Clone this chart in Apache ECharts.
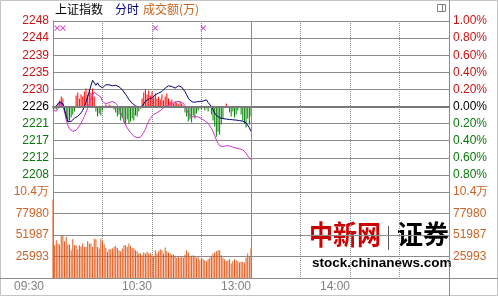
<!DOCTYPE html>
<html><head><meta charset="utf-8">
<script src="https://cdn.jsdelivr.net/npm/echarts@6/dist/echarts.min.js"></script>
<style>html,body{margin:0;padding:0;background:#fff}#c{width:498px;height:296px}</style>
</head><body><div id="c"></div>
<script>
// ---- data ----
const baseClose = 2225.8;
const priceLabels = ['2248','2244','2239','2235','2230','2226','2221','2217','2212','2208'];
const pctLabels = ['1.00%','0.80%','0.60%','0.40%','0.20%','0.00%','0.20%','0.40%','0.60%','0.80%'];
const volLabels = ['10.4万','77980','51987','25993'];
const volMax = 103973;
const timeLabels = ['09:30','10:30','13:00','14:00'];
const timeTicks = [0,60,120,180];

const indexPrice = [2225.33,2225.59,2225.98,2226.50,2227.02,2227.28,2226.50,2224.94,2223.38,2221.82,
2221.69,2221.95,2222.34,2222.73,2222.99,2223.25,2223.64,2224.16,2224.81,2225.72,
2227.02,2228.32,2229.63,2231.19,2232.62,2233.14,2231.32,2231.97,2231.19,2231.71,
2230.67,2231.06,2231.45,2231.71,2231.45,2231.06,2231.19,2231.45,2231.32,2231.19,
2230.93,2230.54,2230.15,2229.63,2228.98,2228.32,2227.67,2227.15,2226.63,2226.24,
2225.98,2225.72,2225.59,2225.72,2225.85,2226.50,2227.15,2227.54,2227.73,2227.86,
2227.99,2228.46,2228.85,2229.11,2229.29,2229.50,2229.70,2230.15,2230.59,2230.93,
2231.19,2231.11,2231.01,2230.80,2230.59,2230.93,2231.19,2231.06,2230.85,2230.28,
2229.70,2228.85,2227.99,2227.41,2226.95,2226.89,2226.95,2227.02,2227.10,2227.10,
2227.10,2227.21,2227.28,2227.54,2226.84,2226.37,2225.80,2224.94,2224.08,2223.51,
2223.04,2222.86,2222.78,2222.65,2222.52,2222.52,2222.52,2222.42,2222.34,2222.34,
2222.34,2222.26,2222.16,2222.13,2222.08,2222.00,2221.90,2221.56,2221.04,2220.26,
2219.34];

const unweighted = [2224.94,2224.68,2224.55,2225.07,2225.85,2227.02,2226.76,2224.42,2222.34,2220.91,
2219.99,2219.47,2219.34,2219.29,2219.60,2220.18,2220.78,2221.48,2222.34,2223.20,
2224.29,2225.38,2226.50,2227.54,2228.72,2229.50,2229.70,2228.85,2228.46,2228.25,
2227.10,2226.76,2226.50,2226.69,2226.84,2227.02,2227.10,2226.89,2226.69,2226.11,
2225.38,2224.29,2223.20,2222.08,2221.04,2220.26,2219.55,2218.95,2218.43,2218.10,
2217.83,2217.65,2217.57,2217.78,2218.17,2219.08,2219.87,2221.04,2221.95,2222.73,
2223.25,2223.77,2223.98,2224.16,2224.42,2224.73,2225.15,2225.46,2225.72,2225.93,
2226.11,2226.32,2226.55,2226.76,2226.97,2227.10,2227.10,2227.08,2227.02,2226.63,
2225.98,2224.94,2224.03,2223.51,2223.12,2223.04,2223.12,2223.20,2223.12,2222.99,
2222.60,2222.29,2222.08,2221.82,2221.43,2220.91,2220.13,2219.29,2218.17,2217.13,
2216.22,2215.57,2215.44,2215.39,2215.49,2215.57,2215.57,2215.57,2215.39,2215.23,
2215.10,2214.97,2214.87,2214.79,2214.66,2214.53,2214.14,2213.67,2212.97,2212.45,
2211.93];

const strength = [0,-2,-3,3,6,10,8,-6,-12,-15,
-14,-11,-8,-5,11,14,8,12,10,15,
18,12,17,14,18,10,-5,-10,-7,-9,
-4,0,2,0,2,1,0,-3,-6,-10,
-8,-14,-11,-16,-18,-13,-17,-15,-12,-14,
-9,-10,-5,-2,8,14,17,12,16,11,
15,9,13,8,10,7,12,6,10,13,
8,5,7,3,5,4,2,5,3,1,
-6,-10,-15,-13,-16,-9,-12,-7,-4,-2,
-3,0,-4,-2,-5,0,-8,-14,-20,-30,
-25,-28,-18,-12,0,3,0,-6,-10,-5,
-11,-8,-4,0,-8,-14,-17,-21,-12,-18,
-10];

const volume = [94800,39600,45600,41600,40400,50800,50800,44400,49600,40400,
40400,33600,46800,39600,39600,34800,39600,38400,41600,37600,
37600,44400,41600,41600,37600,47600,46800,37600,35600,47600,
44400,40400,36400,31600,34800,34800,35600,37600,38800,36400,
33600,32400,35600,39600,39600,37600,41600,38800,36400,35600,
33600,32400,29600,29600,27600,30800,29600,31600,29600,30000,
27600,25600,33600,29600,32400,34800,33600,29600,36800,32400,
30800,29600,28400,28400,26800,24400,25600,24400,25600,24400,
28400,33600,30800,25600,26800,27600,26000,24400,25200,21600,
24400,22800,21600,20400,22800,24400,26800,29600,30800,32400,
33600,33600,27600,24400,22800,20400,21600,22800,17600,20400,
22800,21600,20400,18800,19600,19600,18800,24400,29600,25600,
35600];

const markerMinutes = [2.5,6,62,91];
const markerPrice = 2246.2;

// ---- chart ----
const toPct = p => (p / baseClose - 1) * 100;
const RED = '#c81414', GREEN = '#0a780a', ORANGE = '#cc6428', GRID = '#8c8c8c';
const FONT = '"Liberation Sans", Arial, sans-serif';
const CJK = '"Noto Sans CJK SC", sans-serif';
const pIdx = v => Math.round((1 - Number(v)) / 0.2);
const vIdx = v => Math.round((volMax - Number(v)) / (volMax / 4));
const priceColor = v => { const i = pIdx(v); return i < 5 ? RED : (i === 5 ? '#000' : GREEN); };

const chart = echarts.init(document.getElementById('c'), null, {renderer: 'canvas'});
const baseLabel = {fontSize: 12, fontFamily: FONT};

chart.setOption({
  animation: false,
  title: [
    {text: '上证指数', left: 55, top: 3, padding: 0, textStyle: {fontSize: 12, fontWeight: 'normal', color: '#000', fontFamily: CJK}},
    {text: '分时', left: 115, top: 3, padding: 0, textStyle: {fontSize: 12, fontWeight: 'normal', color: '#000080', fontFamily: CJK}},
    {text: '成交额(万)', left: 143, top: 3, padding: 0, textStyle: {fontSize: 12, fontWeight: 'normal', color: '#c8641e', fontFamily: CJK}}
  ],
  grid: [
    {left: 53, right: 49, top: 21, height: 171, outerBoundsMode: 'none'},
    {left: 53, right: 49, top: 192, height: 86, outerBoundsMode: 'none'}
  ],
  xAxis: [
    {gridIndex: 0, type: 'value', min: 0, max: 240, interval: 30,
     axisLine: {show: true, lineStyle: {color: '#7a7a7a', width: 2}}, axisTick: {show: false}, axisLabel: {show: false},
     splitLine: {show: true, lineStyle: {color: GRID, type: [1, 1], width: 1}}},
    {gridIndex: 1, type: 'value', min: 0, max: 240, interval: 30,
     axisLine: {show: false}, axisTick: {show: false},
     splitLine: {show: true, lineStyle: {color: GRID, type: [1, 1], width: 1}},
     axisLabel: Object.assign({}, baseLabel, {
       show: true, margin: 3, color: '#808080', align: 'right',
       formatter: v => { const i = timeTicks.indexOf(Number(v)); if (i < 0) return ''; return i === 0 ? '{f|' + timeLabels[0] + '}' : timeLabels[i]; },
       rich: {f: {padding: [0, 9, 0, 0], fontSize: 12, fontFamily: FONT, color: '#808080'}}
     })}
  ],
  yAxis: [
    {gridIndex: 0, type: 'value', min: -1, max: 1, interval: 0.2, position: 'left',
     axisLine: {show: true, lineStyle: {color: GRID}}, axisTick: {show: false},
     splitLine: {show: true, lineStyle: {color: GRID, width: 1}},
     axisLabel: Object.assign({}, baseLabel, {margin: 4, formatter: v => priceLabels[pIdx(v)] || '', color: priceColor})},
    {gridIndex: 0, type: 'value', min: -1, max: 1, interval: 0.2, position: 'right',
     axisLine: {show: false}, axisTick: {show: false}, splitLine: {show: false},
     axisLabel: Object.assign({}, baseLabel, {margin: 4, formatter: v => pctLabels[pIdx(v)] || '', color: priceColor})},
    {gridIndex: 0, type: 'value', min: -85, max: 85, show: false},
    {gridIndex: 1, type: 'value', min: 0, max: volMax, interval: volMax / 4, position: 'left',
     axisLine: {show: true, lineStyle: {color: GRID}}, axisTick: {show: false},
     splitLine: {show: true, lineStyle: {color: GRID, width: 1}},
     axisLabel: Object.assign({}, baseLabel, {margin: 4, color: ORANGE, formatter: v => volLabels[vIdx(v)] || ''})},
    {gridIndex: 1, type: 'value', min: 0, max: volMax, interval: volMax / 4, position: 'right',
     axisLine: {show: false}, axisTick: {show: false}, splitLine: {show: false},
     axisLabel: Object.assign({}, baseLabel, {margin: 4, color: ORANGE, formatter: v => volLabels[vIdx(v)] || ''})}
  ],
  series: [
    {type: 'bar', name: 'strength', xAxisIndex: 0, yAxisIndex: 2, barWidth: 1, z: 2,
     data: strength.map((s, i) => [i, s]),
     itemStyle: {color: p => (p.value[1] >= 0 ? '#ff0000' : '#008000')},
     markLine: {silent: true, symbol: 'none', label: {show: false}, animation: false,
       data: [{yAxis: 0, lineStyle: {color: '#7a7a7a', width: 2, type: 'solid'}},
              {xAxis: 120, lineStyle: {color: GRID, width: 1, type: 'solid'}}]}},
    {type: 'line', name: 'unweighted', xAxisIndex: 0, yAxisIndex: 0, showSymbol: false, z: 3,
     data: unweighted.map((p, i) => [i, toPct(p)]), lineStyle: {color: '#cc33cc', width: 1}},
    {type: 'line', name: 'index', xAxisIndex: 0, yAxisIndex: 0, showSymbol: false, z: 4,
     data: indexPrice.map((p, i) => [i, toPct(p)]), lineStyle: {color: '#000070', width: 1}},
    {type: 'scatter', name: 'marks', xAxisIndex: 0, yAxisIndex: 0, z: 5,
     data: markerMinutes.map(m => [m, toPct(markerPrice)]),
     symbol: 'path://M0 0L10 10M10 0L0 10', symbolSize: 5,
     itemStyle: {color: 'rgba(0,0,0,0)', borderColor: '#cc33cc', borderWidth: 1.2}},
    {type: 'bar', name: 'volume', xAxisIndex: 1, yAxisIndex: 3, barWidth: 1,
     data: volume.map((v, i) => [i, v]), itemStyle: {color: '#e2581a'},
     markLine: {silent: true, symbol: 'none', label: {show: false}, animation: false,
       data: [{xAxis: 120, lineStyle: {color: GRID, width: 1, type: 'solid'}}]}}
  ],
  graphic: [
    {type: 'rect', silent: true, shape: {x: 0.5, y: 0.5, width: 497, height: 295}, style: {fill: 'none', stroke: '#c4c4c4', lineWidth: 1}},
    {type: 'line', silent: true, shape: {x1: 449.5, y1: 0, x2: 449.5, y2: 296}, style: {stroke: GRID, lineWidth: 1}},
    {type: 'line', silent: true, shape: {x1: 0, y1: 278.5, x2: 498, y2: 278.5}, style: {stroke: GRID, lineWidth: 1}},
    {type: 'rect', silent: true, shape: {x: 437.5, y: 4.5, width: 8, height: 7}, style: {fill: 'none', stroke: '#808080', lineWidth: 1}},
    {type: 'line', silent: true, shape: {x1: 442.5, y1: 4.5, x2: 442.5, y2: 11.5}, style: {stroke: '#808080', lineWidth: 1}},
    {type: 'text', silent: true, x: 309, y: 221, scaleY: 1.12, style: {text: '中新网', fill: '#cc0000', font: 'bold 24px "Noto Sans CJK SC"', verticalAlign: 'top'}},
    {type: 'line', silent: true, shape: {x1: 388.5, y1: 226, x2: 388.5, y2: 250}, style: {stroke: '#555', lineWidth: 1}},
    {type: 'text', silent: true, x: 397, y: 221, style: {text: '证券', fill: '#000', font: 'bold 26px "Noto Sans CJK SC"', verticalAlign: 'top'}},
    {type: 'text', silent: true, x: 312, y: 256, style: {text: 'stock.chinanews.com', fill: '#000', font: 'bold 13.5px "Liberation Sans"', verticalAlign: 'top'}}
  ]
});
</script>
</body></html>
